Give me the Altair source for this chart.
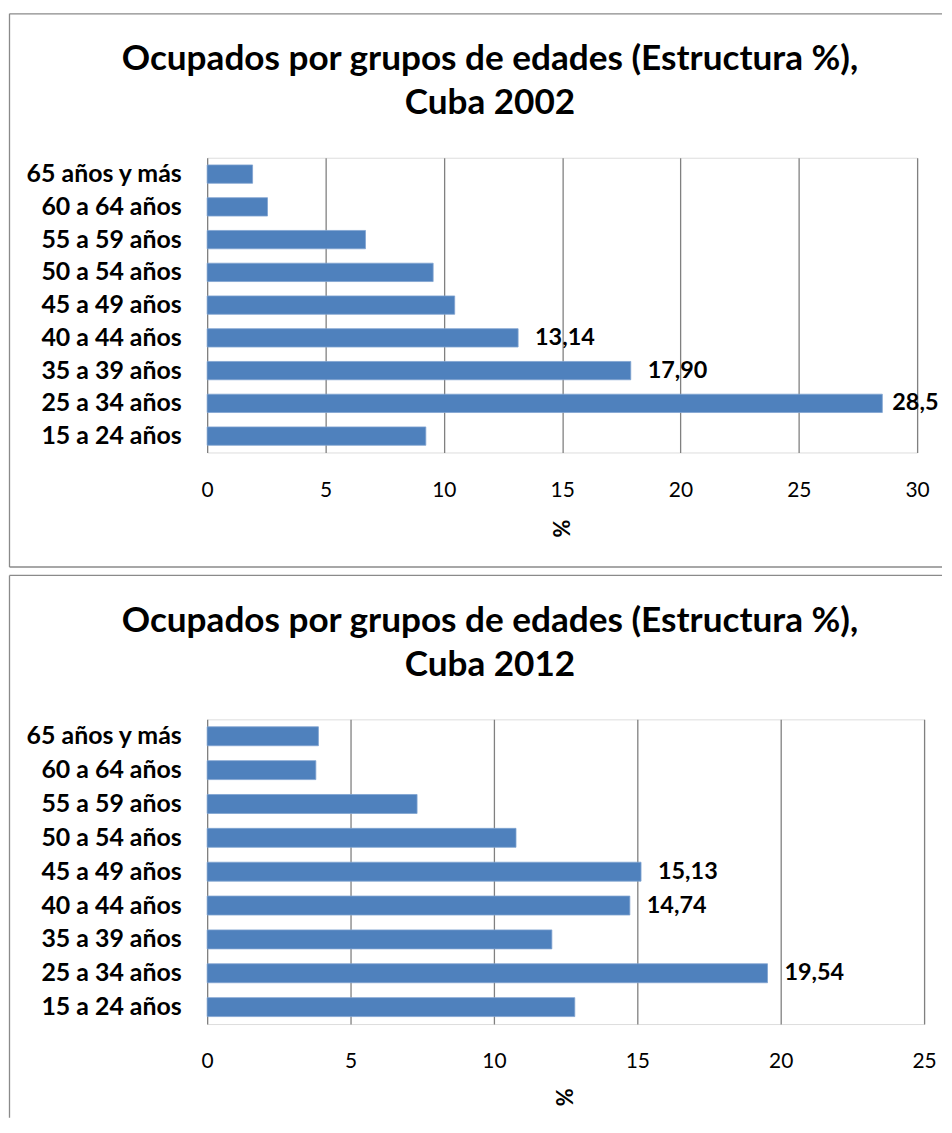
import altair as alt
import pandas as pd

categories = ["65 años y más", "60 a 64 años", "55 a 59 años", "50 a 54 años",
              "45 a 49 años", "40 a 44 años", "35 a 39 años", "25 a 34 años",
              "15 a 24 años"]
values_2002 = [1.92, 2.55, 6.69, 9.55, 10.46, 13.14, 17.90, 28.53, 9.24]
values_2012 = [3.88, 3.79, 7.32, 10.77, 15.13, 14.74, 12.02, 19.54, 12.82]
labeled_2002 = ["40 a 44 años", "35 a 39 años", "25 a 34 años"]
labeled_2012 = ["45 a 49 años", "40 a 44 años", "25 a 34 años"]
ticks_2002 = [0, 5, 10, 15, 20, 25, 30]
ticks_2012 = [0, 5, 10, 15, 20, 25]
title_line1 = "Ocupados por grupos de edades (Estructura %),"
title_2002 = "Cuba 2002"
title_2012 = "Cuba 2012"
x_title = "%"

FONT = "Lato"
BAR = "#4F81BD"
GRID = "#808080"
FRAME = "#8a8a8a"


def panel(values, labeled, ticks, line2, width, height, title_y, frame_bottom, full_frame):
    df = pd.DataFrame({"cat": categories, "v": values})
    one = pd.DataFrame({"k": [0]})
    edge = 0.9 * ticks[-1]  # labels this close to the right edge get cut by the frame

    base = alt.Chart(df).encode(
        x=alt.X("v:Q",
                scale=alt.Scale(domain=[ticks[0], ticks[-1]], nice=False),
                axis=alt.Axis(values=ticks, grid=True, gridColor=GRID, gridWidth=1.3,
                              domain=False, ticks=False, labelFont=FONT,
                              labelFontSize=21, labelColor="black", labelPadding=27,
                              labelFlush=False,
                              title=x_title, titleFont=FONT, titleFontSize=22,
                              titleFontWeight="bold", titleColor="black",
                              titleAngle=270, titleBaseline="middle", titleAlign="center",
                              titleY=title_y)),
        y=alt.Y("cat:N", sort=categories,
                scale=alt.Scale(paddingInner=0.44, paddingOuter=0.22),
                axis=alt.Axis(title="", domain=False, ticks=False, grid=False,
                              labelFont=FONT, labelFontSize=25, labelFontWeight="bold",
                              labelColor="black", labelPadding=26, labelLimit=400)),
    )
    bars = base.mark_bar(color=BAR, stroke="#7FA3D0", strokeWidth=0.8)
    labels = base.mark_text(align="left", baseline="middle", font=FONT,
                            fontSize=23.5, fontWeight="bold", color="black",
                            dx=alt.ExprRef(f"datum.v > {edge} ? 10 : 17"),
                            limit=alt.ExprRef(f"datum.v > {edge} ? 52 : 0"),
                            ellipsis="\u200b").encode(
        text="lbl:N"
    ).transform_filter(
        alt.FieldOneOfPredicate(field="cat", oneOf=labeled)
    ).transform_calculate(
        lbl="replace(format(datum.v, '.2f'), '.', ',')"
    )

    t1 = alt.Chart(one).mark_text(font=FONT, fontSize=35.3, fontWeight="bold",
                                  align="center", baseline="alphabetic",
                                  color="black").encode(
        x=alt.value(284), y=alt.value(-88), text=alt.value(title_line1))
    t2 = alt.Chart(one).mark_text(font=FONT, fontSize=35.3, fontWeight="bold",
                                  align="center", baseline="alphabetic",
                                  color="black").encode(
        x=alt.value(284), y=alt.value(-44), text=alt.value(line2))

    fl = alt.Chart(one).mark_rule(color=FRAME, strokeWidth=1.3).encode(
        x=alt.value(-198.5), y=alt.value(-144.5), y2=alt.value(frame_bottom))
    ft = alt.Chart(one).mark_rule(color=FRAME, strokeWidth=1.3).encode(
        x=alt.value(-198.5), x2=alt.value(738), y=alt.value(-144.5))
    layers = [fl, ft]
    if full_frame:
        fb = alt.Chart(one).mark_rule(color=FRAME, strokeWidth=1.3).encode(
            x=alt.value(-198.5), x2=alt.value(738), y=alt.value(frame_bottom))
        layers.append(fb)

    return alt.layer(*layers, t1, t2, bars, labels).properties(width=width, height=height)


top = panel(values_2002, labeled_2002, ticks_2002, title_2002, 713, 296, 76, 411, True)
bottom = panel(values_2012, labeled_2012, ticks_2012, title_2012, 720, 306, 73, 400, False)

chart = alt.vconcat(top, bottom, spacing=5).properties(
    padding={"left": 0, "top": 2, "right": 0, "bottom": 0}
).configure_view(strokeWidth=0).configure(background="white")

chart.save("out.html", embed_options={"renderer": "svg", "actions": False})
